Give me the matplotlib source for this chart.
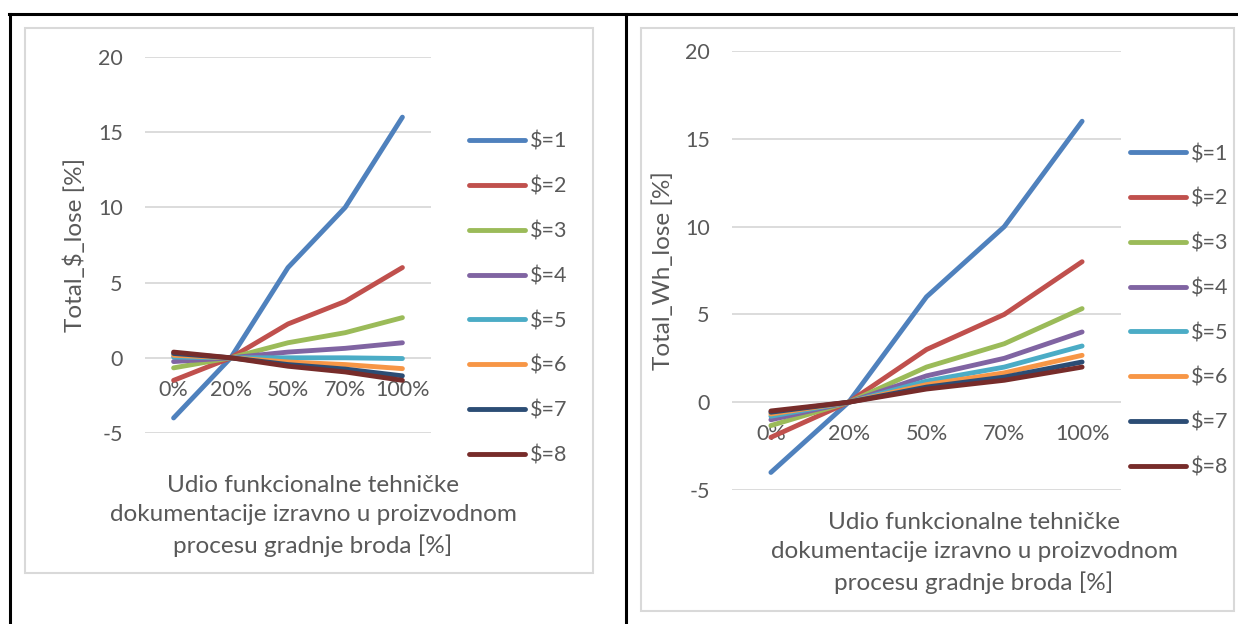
import matplotlib
matplotlib.use("Agg")
import matplotlib.pyplot as plt
from matplotlib.lines import Line2D
from matplotlib.patches import Rectangle

plt.rcParams['font.family'] = ['Lato', 'DejaVu Sans']

W, H = 1238, 624

categories = ["0%", "20%", "50%", "70%", "100%"]
series_names = ["\\$=1", "\\$=2", "\\$=3", "\\$=4", "\\$=5", "\\$=6", "\\$=7", "\\$=8"]
colors = ["#4F81BD", "#C0504D", "#9BBB59", "#8064A2",
          "#4BACC6", "#F79646", "#2C4D75", "#772C2A"]

# left chart: Total_$_lose
lose_s1 = [-4, 0, 6, 10, 16]
lose_s2 = [-1.5, 0, 2.25, 3.75, 6]
lose_s3 = [-0.67, 0, 1.0, 1.67, 2.67]
lose_s4 = [-0.25, 0, 0.38, 0.63, 1.0]
lose_s5 = [0.05, 0, 0, 0, -0.05]
lose_s6 = [0.17, 0, -0.28, -0.45, -0.72]
lose_s7 = [0.29, 0, -0.45, -0.75, -1.2]
lose_s8 = [0.38, 0, -0.56, -0.94, -1.5]

# right chart: Total_Wh_lose
wh_s1 = [-4, 0, 6, 10, 16]
wh_s2 = [-2, 0, 3, 5, 8]
wh_s3 = [-1.33, 0, 2, 3.33, 5.33]
wh_s4 = [-1, 0, 1.5, 2.5, 4]
wh_s5 = [-0.8, 0, 1.2, 2, 3.2]
wh_s6 = [-0.67, 0, 1, 1.67, 2.67]
wh_s7 = [-0.57, 0, 0.86, 1.43, 2.29]
wh_s8 = [-0.5, 0, 0.75, 1.25, 2]

xlabel = "Udio funkcionalne tehničke\ndokumentacije izravno u proizvodnom\nprocesu gradnje broda [%]"

GRAY = "#595959"
GRID = "#D9D9D9"
FS = 15.5      # ticks, legend
FS_T = 17.5    # axis titles

fig = plt.figure(figsize=(W / 100, H / 100), dpi=100)


def fx(px):
    return px / W


def fy(py):
    return 1 - py / H


# table borders
for x0, y0, x1, y1 in [(9, 14, W, 14), (10, 14, 10, H), (626, 14, 626, H)]:
    fig.add_artist(Line2D([fx(x0), fx(x1)], [fy(y0), fy(y1)], color="black", lw=2.2))

# chart frames
for x0, y0, x1, y1 in [(25, 28, 593, 573), (641, 28, 1234, 611)]:
    fig.add_artist(Rectangle((fx(x0), fy(y1)), fx(x1 - x0), (y1 - y0) / H,
                             fill=False, edgecolor=GRID, lw=1.5))


def make_chart(box, data, ylab, ylab_x, leg_xy, xlab_xy):
    x0, y0, x1, y1 = box
    ax = fig.add_axes([fx(x0), fy(y1), fx(x1 - x0), (y1 - y0) / H])
    xs = list(range(len(categories)))
    for vals, name, c in zip(data, series_names, colors):
        ax.plot(xs, vals, color=c, lw=3.5, label=name,
                solid_capstyle="round", solid_joinstyle="round", zorder=3)
    ax.set_xlim(-0.5, len(categories) - 0.5)
    ax.set_ylim(-5, 20)
    ax.set_yticks([-5, 0, 5, 10, 15, 20])
    ax.set_yticklabels(["-5", "0", "5", "10", "15", "20"])
    ax.set_xticks([])
    ax.tick_params(axis="y", length=0, pad=16, labelsize=FS, labelcolor=GRAY)
    ax.yaxis.grid(True, color=GRID, lw=1.3)
    ax.set_axisbelow(True)
    for s in ax.spines.values():
        s.set_visible(False)
    # category labels sit next to the axis line at y=0
    for i, lab in enumerate(categories):
        ax.annotate(lab, (i, 0), xytext=(0, -32), textcoords="offset pixels",
                    ha="center", va="center", fontsize=FS, color=GRAY, zorder=2)
    fig.text(fx(ylab_x), fy((y0 + y1) / 2), ylab, rotation=90, ha="center",
             va="center", fontsize=FS_T, color=GRAY)
    fig.text(fx(xlab_xy[0]), fy(xlab_xy[1]), xlabel, ha="center", va="center",
             multialignment="center", fontsize=FS_T, color=GRAY, linespacing=1.47)
    ax.legend(loc="upper left", bbox_to_anchor=(fx(leg_xy[0]), fy(leg_xy[1])),
              bbox_transform=fig.transFigure, frameon=False, fontsize=FS,
              labelcolor=GRAY, handlelength=2.6, handletextpad=0.25,
              labelspacing=1.15, borderpad=0, borderaxespad=0)
    return ax


make_chart((145, 57, 431, 433),
           [lose_s1, lose_s2, lose_s3, lose_s4, lose_s5, lose_s6, lose_s7, lose_s8],
           "Total_\\$_lose [%]", 75, (469, 132), (313, 516))
make_chart((732, 51, 1121, 490),
           [wh_s1, wh_s2, wh_s3, wh_s4, wh_s5, wh_s6, wh_s7, wh_s8],
           "Total_Wh_lose [%]", 663, (1130, 144), (974, 553))

fig.savefig("out.png", dpi=100)
